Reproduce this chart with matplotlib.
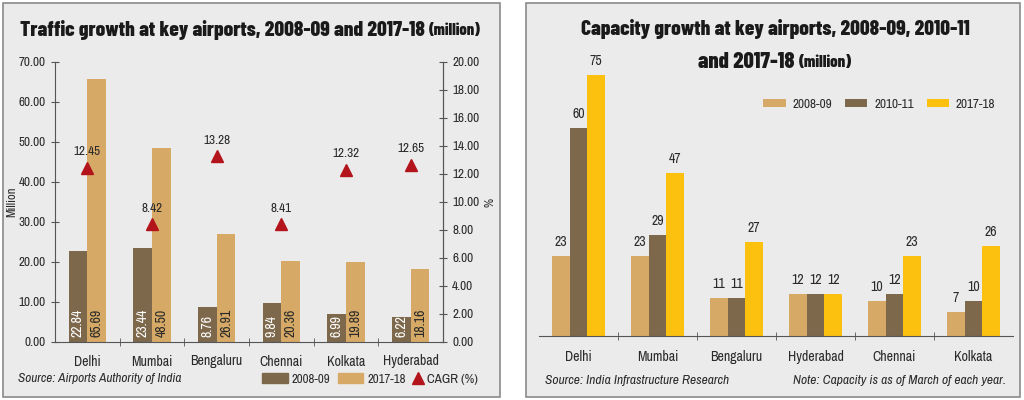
import matplotlib
matplotlib.use("Agg")
import matplotlib.pyplot as plt
import numpy as np
from matplotlib.patches import Rectangle, Patch
from matplotlib.lines import Line2D
from matplotlib.ticker import FormatStrFormatter

BODY = ['Archivo Narrow', 'Liberation Sans Narrow', 'Liberation Sans', 'DejaVu Sans']
HEAD = ['Barlow Condensed', 'Archivo Narrow', 'Liberation Sans Narrow', 'DejaVu Sans']
plt.rcParams['font.family'] = BODY

# ---- traffic data (left chart)
traffic_cities = ["Delhi", "Mumbai", "Bengaluru", "Chennai", "Kolkata", "Hyderabad"]
traffic_0809 = [22.84, 23.44, 8.76, 9.84, 6.99, 6.22]
traffic_1718 = [65.69, 48.50, 26.91, 20.36, 19.89, 18.16]
cagr = [12.45, 8.42, 13.28, 8.41, 12.32, 12.65]

# ---- capacity data (right chart)
cap_cities = ["Delhi", "Mumbai", "Bengaluru", "Hyderabad", "Chennai", "Kolkata"]
cap_0809 = [23, 23, 11, 12, 10, 7]
cap_1011 = [60, 29, 11, 12, 12, 10]
cap_1718 = [75, 47, 27, 12, 23, 26]

DARK = "#7d684c"
TAN = "#d6aa66"
YEL = "#fcc10e"
RED = "#b3141c"
PANEL = "#ebebeb"
AXC = "#555555"
TXT = "#2a2a2a"

W, H = 1024, 400
fig = plt.figure(figsize=(10.24, 4.0), dpi=100)
fig.patch.set_facecolor("white")

def fx(px):
    return px / W

def fy(py):
    return 1 - py / H

# panel backgrounds
for left, width in [(3, 497), (526, 494)]:
    fig.patches.append(Rectangle((fx(left), fy(397)), fx(width), 394 / H,
                                 transform=fig.transFigure, facecolor=PANEL,
                                 edgecolor="#8a8a8a", lw=1.2, zorder=-5))

# ================= left chart
ax1 = fig.add_axes([fx(55), fy(342), fx(443 - 55), (342 - 62) / H])
ax1.set_facecolor("none")
x = np.arange(len(traffic_cities))
w = 0.29
ax1.bar(x - w / 2, traffic_0809, w, color=DARK)
ax1.bar(x + w / 2, traffic_1718, w, color=TAN)
for xi, v in zip(x, traffic_0809):
    ax1.text(xi - w / 2, 1.3, f"{v:.2f}", rotation=90, ha="center", va="bottom",
             color="white", fontsize=10)
for xi, v in zip(x, traffic_1718):
    ax1.text(xi + w / 2, 1.3, f"{v:.2f}", rotation=90, ha="center", va="bottom",
             color=TXT, fontsize=10)
ax1.set_xlim(-0.5, 5.5)
ax1.set_ylim(0, 70)
ax1.set_yticks(np.arange(0, 71, 10))
ax1.yaxis.set_major_formatter(FormatStrFormatter("%.2f"))
ax1.set_xticks(x)
ax1.set_xticklabels(traffic_cities)
ax1.set_xticks(np.arange(0.5, 5, 1), minor=True)
ax1.tick_params(axis="x", which="major", length=0, pad=9, labelsize=10, colors=TXT)
ax1.tick_params(axis="x", which="minor", length=6, direction="inout", color=AXC)
ax1.tick_params(axis="y", length=6, direction="inout", color=AXC, labelsize=9.5, labelcolor=TXT)
ax1.spines["top"].set_visible(False)
for s in ["left", "right", "bottom"]:
    ax1.spines[s].set_color(AXC)
ax1.set_ylabel("Million", fontsize=9, color=TXT, labelpad=1)

ax2 = ax1.twinx()
ax2.set_ylim(0, 20)
ax2.set_yticks(np.arange(0, 21, 2))
ax2.yaxis.set_major_formatter(FormatStrFormatter("%.2f"))
ax2.tick_params(axis="y", length=6, direction="inout", color=AXC, labelsize=9.5, labelcolor=TXT)
ax2.spines["top"].set_visible(False)
ax2.spines["right"].set_color(AXC)
ax2.spines["left"].set_visible(False)
ax2.spines["bottom"].set_visible(False)
ax2.plot(x, cagr, linestyle="none", marker="^", color=RED, ms=9)
for xi, v in zip(x, cagr):
    ax2.text(xi, v + 0.75, f"{v:.2f}", ha="center", va="bottom", fontsize=9.5, color=TXT)
ax2.set_ylabel("%", fontsize=9, color=TXT, labelpad=4)

src1 = fig.text(fx(18), fy(379), "Source: Airports Authority of India", style="italic",
                fontsize=11, va="center", color=TXT)
leg_a = fig.legend([Patch(color=DARK), Patch(color=TAN)], ["2008-09", "2017-18"],
                   loc="center left", bbox_to_anchor=(fx(262), fy(379)), ncol=2,
                   frameon=False, fontsize=9.2, handlelength=2.0, handleheight=0.75,
                   handletextpad=0.3, columnspacing=0.6, labelcolor=TXT, borderpad=0,
                   borderaxespad=0)
leg_b = fig.legend([Line2D([], [], linestyle="none", marker="^", color=RED, ms=8)],
                   ["CAGR (%)"], loc="center right", bbox_to_anchor=(fx(478), fy(379)),
                   frameon=False, fontsize=9.5, handlelength=0.8, handletextpad=0.3,
                   labelcolor=TXT, borderpad=0, borderaxespad=0)

# ================= right chart
ax3 = fig.add_axes([fx(539), fy(336), fx(1013 - 539), (336 - 58) / H])
ax3.set_facecolor("none")
xc = np.arange(len(cap_cities))
wc = 0.224
r1 = ax3.bar(xc - wc, cap_0809, wc, color=TAN, label="2008-09")
r2 = ax3.bar(xc, cap_1011, wc, color=DARK, label="2010-11")
r3 = ax3.bar(xc + wc, cap_1718, wc, color=YEL, label="2017-18")
for bars in (r1, r2, r3):
    ax3.bar_label(bars, padding=5, fontsize=10, color=TXT)
ax3.set_xlim(-0.5, 5.5)
ax3.set_ylim(0, 80)
ax3.set_yticks([])
ax3.set_xticks(xc)
ax3.set_xticklabels(cap_cities)
ax3.set_xticks(np.arange(0.5, 5, 1), minor=True)
ax3.tick_params(axis="x", which="major", length=0, pad=10, labelsize=10, colors=TXT)
ax3.tick_params(axis="x", which="minor", length=6, direction="inout", color=AXC)
for s in ["left", "right", "top"]:
    ax3.spines[s].set_visible(False)
ax3.spines["bottom"].set_color(AXC)
ax3.legend(loc="center right", bbox_to_anchor=(fx(1002), fy(104)), bbox_transform=fig.transFigure,
           ncol=3, frameon=False, fontsize=9.5, handlelength=1.7, handleheight=0.6,
           handletextpad=0.5, columnspacing=1.0, labelcolor=TXT, borderpad=0)

src2 = fig.text(fx(545), fy(381), "Source: India Infrastructure Research", style="italic",
                fontsize=11, va="center", color=TXT)
note = fig.text(fx(1006), fy(381), "Note: Capacity is as of March of each year.", style="italic",
                fontsize=11, va="center", ha="right", color=TXT)

fig.canvas.draw()
renderer = fig.canvas.get_renderer()

def fit_width(t, target):
    # scale font size so the text spans about target pixels
    cur = t.get_window_extent(renderer).width
    t.set_fontsize(t.get_fontsize() * target / cur)

fit_width(src1, 165)
fit_width(src2, 185)
fit_width(note, 213)

# ================= titles (big part + smaller "(million)")
def title_line(cx, cy, big, big_w, small=None, small_w=0):
    t1 = fig.text(0, fy(cy), big, fontsize=16, weight=800, va="center",
                  color="#1a1a1a", family=HEAD)
    fit_width(t1, big_w)
    w1 = t1.get_window_extent(renderer).width
    w2, gap = 0, 0
    if small:
        t2 = fig.text(0, fy(cy + 1), small, fontsize=11, weight=800, va="center",
                      color="#1a1a1a", family=HEAD)
        fit_width(t2, small_w)
        w2 = t2.get_window_extent(renderer).width
        gap = 4
    start = cx - (w1 + gap + w2) / 2
    t1.set_x(fx(start))
    if small:
        t2.set_x(fx(start + w1 + gap))

title_line(250, 30, "Traffic growth at key airports, 2008-09 and 2017-18", 405, "(million)", 52)
title_line(775, 29, "Capacity growth at key airports, 2008-09, 2010-11", 390)
title_line(775, 62, "and 2017-18", 97, "(million)", 53)

fig.savefig("out.png", dpi=100, facecolor="white")
